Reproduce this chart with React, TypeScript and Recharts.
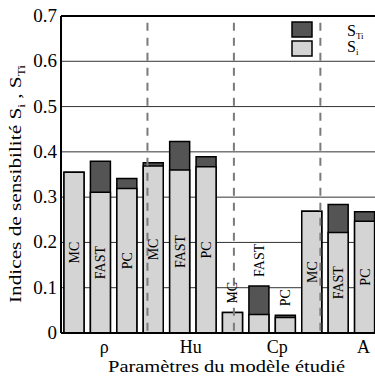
import { BarChart, Bar, XAxis, YAxis, CartesianGrid, ReferenceLine, LabelList, Legend } from 'recharts';

const groups = ['ρ', 'Hu', 'Cp', 'A'];
const methods = ['MC', 'FAST', 'PC'];
// first-order indices (light) and total indices (dark), MC / FAST / PC per parameter
const siValues = [0.355, 0.311, 0.319, 0.369, 0.36, 0.367, 0.045, 0.041, 0.034, 0.269, 0.222, 0.247];
const stiValues = [0.355, 0.379, 0.341, 0.376, 0.423, 0.389, 0.045, 0.104, 0.039, 0.269, 0.284, 0.268];
const yTicks = [0, 0.1, 0.2, 0.3, 0.4, 0.5, 0.6, 0.7];

const data = siValues.map((si, i) => ({
  key: `${groups[Math.floor(i / methods.length)]}-${methods[i % methods.length]}`,
  method: methods[i % methods.length],
  si,
  sti: stiValues[i],
}));

const groupCenters = groups.map((_, i) => i * methods.length + methods.length / 2);
const groupBounds = groups.slice(1).map((_, i) => (i + 1) * methods.length);

const FONT = "'Liberation Serif', 'Times New Roman', serif";
const LIGHT = '#d4d4d4';
const DARK = '#545454';

const MethodLabel = (props: any) => {
  const { x, y, width, height, value, index } = props;
  const row = data[index];
  const cx = x + width / 2 + 5;
  const bottom = y + height;
  const stiTop = bottom - height * (row.sti / row.si);
  const tall = height > 60;
  const ty = tall ? y + height / 2 : stiTop - 9;
  return (
    <text
      x={cx}
      y={ty}
      transform={`rotate(-90, ${cx}, ${ty})`}
      textAnchor={tall ? 'middle' : 'start'}
      fontSize={14}
      fontFamily={FONT}
      fill="#000"
    >
      {value}
    </text>
  );
};

const YTitle = () => {
  const x = 21;
  const y = 184;
  return (
    <text
      x={x}
      y={y}
      transform={`rotate(-90, ${x}, ${y})`}
      textAnchor="middle"
      fontFamily={FONT}
      fontSize={16}
      fill="#000"
      textLength={238}
      lengthAdjust="spacingAndGlyphs"
    >
      Indices de sensibilité S
      <tspan fontSize={10} dy={4}>i</tspan>
      <tspan dy={-4}> , S</tspan>
      <tspan fontSize={10} dy={4}>Ti</tspan>
    </text>
  );
};

const XTitle = () => (
  <text
    x={226.5}
    y={372}
    textAnchor="middle"
    fontFamily={FONT}
    fontSize={17}
    fill="#000"
    textLength={237}
    lengthAdjust="spacingAndGlyphs"
  >
    Paramètres du modèle étudié
  </text>
);

const GroupTick = ({ x, payload }: any) => (
  <text x={x} y={353} textAnchor="middle" fontFamily={FONT} fontSize={18} fill="#000">
    {groups[Math.floor(payload.value / methods.length)]}
  </text>
);

const ValueTick = ({ x, y, payload }: any) => (
  <text x={x} y={y + 6} textAnchor="end" fontFamily={FONT} fontSize={19} fill="#000">
    {String(payload.value)}
  </text>
);

const LegendBox = () => (
  <svg width={84} height={40} style={{ display: 'block' }}>
    <rect x={1} y={1} width={20} height={15} fill={DARK} stroke="#000" strokeWidth={1.5} />
    <rect x={1} y={20} width={20} height={15} fill={LIGHT} stroke="#000" strokeWidth={1.5} />
    <text x={56} y={15} fontFamily={FONT} fontSize={16} fill="#000">
      S<tspan fontSize={9} dy={3}>Ti</tspan>
    </text>
    <text x={56} y={31} fontFamily={FONT} fontSize={16} fill="#000">
      S<tspan fontSize={9} dy={3}>i</tspan>
    </text>
  </svg>
);

export default function App() {
  return (
    <div style={{ position: 'absolute', left: 0, top: 0, width: 375, height: 376, overflow: 'hidden', background: '#fff' }}>
      <BarChart
        width={380}
        height={376}
        data={data}
        margin={{ top: 16, right: 2, left: 0, bottom: 0 }}
        barSize={20}
        barGap={-20}
      >
        <CartesianGrid xAxisId="g" horizontal vertical={false} stroke="#333" />
        <XAxis
          xAxisId="g"
          type="number"
          domain={[0, groups.length * methods.length]}
          ticks={groupCenters}
          tick={<GroupTick />}
          tickLine={false}
          tickSize={0}
          tickMargin={0}
          height={43}
          axisLine={{ stroke: '#000', strokeWidth: 2 }}
          label={<XTitle />}
        />
        <XAxis xAxisId="b" dataKey="key" hide height={0} />
        <YAxis
          domain={[0, 0.7]}
          ticks={yTicks}
          width={61}
          tickLine={false}
          tickSize={0}
          tickMargin={4}
          tick={<ValueTick />}
          axisLine={{ stroke: '#000', strokeWidth: 2 }}
          label={<YTitle />}
        />
        <Bar dataKey="sti" xAxisId="b" fill={DARK} stroke="#000" strokeWidth={1.5} isAnimationActive={false} />
        <Bar dataKey="si" xAxisId="b" fill={LIGHT} stroke="#000" strokeWidth={1.5} isAnimationActive={false}>
          <LabelList dataKey="method" content={MethodLabel} />
        </Bar>
        {groupBounds.map((b) => (
          <ReferenceLine
            key={b}
            xAxisId="g"
            segment={[{ x: b, y: 0.685 }, { x: b, y: 0 }]}
            stroke="#7a7a7a"
            strokeWidth={2}
            strokeDasharray="8 7"
          />
        ))}
        <ReferenceLine xAxisId="g" y={0.7} stroke="#000" strokeWidth={2} />
        <Legend
          verticalAlign="middle"
          content={<LegendBox />}
          wrapperStyle={{ position: 'absolute', left: 291, top: 21, width: 84, height: 40 }}
        />
      </BarChart>
    </div>
  );
}
